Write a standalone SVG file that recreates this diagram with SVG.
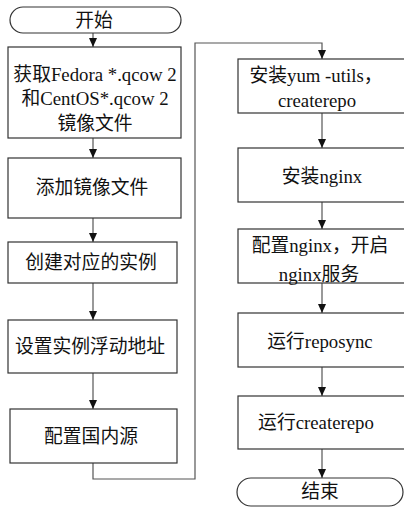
<svg xmlns="http://www.w3.org/2000/svg" width="404" height="507" viewBox="0 0 404 507">
<defs>
<marker id="ah" markerUnits="userSpaceOnUse" markerWidth="9" markerHeight="8" refX="9" refY="4" orient="auto">
<path d="M0,0 L9,4 L0,8 z" fill="#111"/>
</marker>
<style>
.b{fill:#fff;stroke:#333;stroke-width:1.2}
.t{font-family:"Liberation Serif","Noto Sans CJK SC",serif;font-size:18.8px;fill:#111;text-anchor:middle}
.c{fill:none;stroke:#555;stroke-width:1.2;marker-end:url(#ah)}
</style>
</defs>
<rect width="404" height="507" fill="#fff"/>
<g id="connectors">
<path class="c" d="M93,33 V47"/>
<path class="c" d="M93,138 V158"/>
<path class="c" d="M93,218 V242"/>
<path class="c" d="M93,283 V320"/>
<path class="c" d="M93,373 V409"/>
<path class="c" d="M93,463 V479 H195 V43 H322 V59"/>
<path class="c" d="M322,113 V148"/>
<path class="c" d="M322,202 V229"/>
<path class="c" d="M322,283 V313"/>
<path class="c" d="M322,367 V396"/>
<path class="c" d="M322,449 V478"/>
</g>
<g id="start">
<rect class="b" x="10" y="7" width="171" height="26" rx="13"/>
<text class="t" x="94" y="27">开始</text>
</g>
<g id="n1">
<rect class="b" x="8" y="47" width="173" height="91"/>
<text class="t" x="95" y="81">获取Fedora *.qcow 2</text>
<text class="t" x="95" y="105">和CentOS*.qcow 2</text>
<text class="t" x="95" y="130">镜像文件</text>
</g>
<g id="n2">
<rect class="b" x="8" y="158" width="173" height="60"/>
<text class="t" x="92" y="194">添加镜像文件</text>
</g>
<g id="n3">
<rect class="b" x="8" y="242" width="169" height="41"/>
<text class="t" x="91" y="269">创建对应的实例</text>
</g>
<g id="n4">
<rect class="b" x="8" y="320" width="169" height="53"/>
<text class="t" x="90" y="353">设置实例浮动地址</text>
</g>
<g id="n5">
<rect class="b" x="10" y="409" width="167" height="54"/>
<text class="t" x="91" y="443">配置国内源</text>
</g>
<g id="n6">
<rect class="b" x="238" y="59" width="170" height="54"/>
<text class="t" x="316" y="82">安装yum -utils，</text>
<text class="t" x="317" y="107">createrepo</text>
</g>
<g id="n7">
<rect class="b" x="238" y="148" width="170" height="54"/>
<text class="t" x="322" y="183">安装nginx</text>
</g>
<g id="n8">
<rect class="b" x="238" y="229" width="170" height="54"/>
<text class="t" x="320" y="252">配置nginx，开启</text>
<text class="t" x="319" y="281">nginx服务</text>
</g>
<g id="n9">
<rect class="b" x="238" y="313" width="170" height="54"/>
<text class="t" x="320" y="348">运行reposync</text>
</g>
<g id="n10">
<rect class="b" x="238" y="396" width="170" height="53"/>
<text class="t" x="316" y="429">运行createrepo</text>
</g>
<g id="end">
<rect class="b" x="237" y="478" width="166" height="28" rx="14"/>
<text class="t" x="320" y="498">结束</text>
</g>
</svg>
